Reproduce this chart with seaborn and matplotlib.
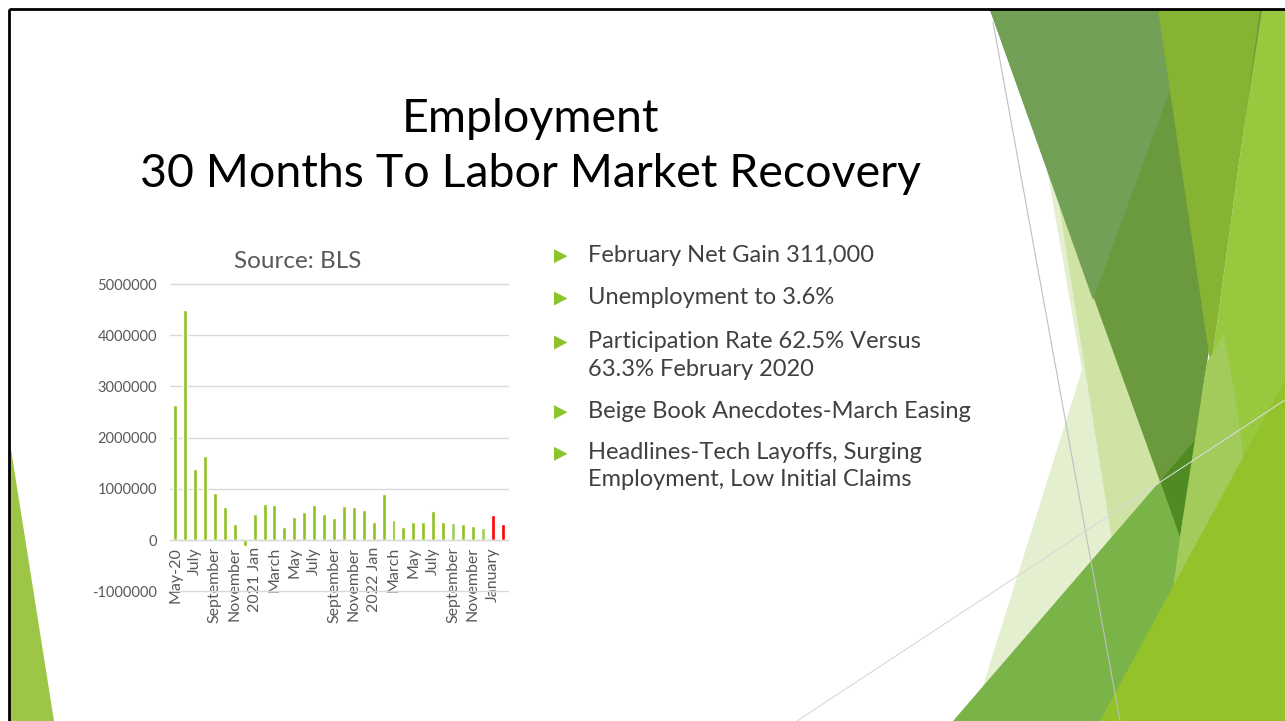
import matplotlib
matplotlib.use("Agg")
import matplotlib.pyplot as plt
from matplotlib.patches import Polygon
import seaborn as sns
import pandas as pd

# ---------------- data ----------------
months = ["2020-05", "2020-06", "2020-07", "2020-08", "2020-09", "2020-10",
          "2020-11", "2020-12", "2021-01", "2021-02", "2021-03", "2021-04",
          "2021-05", "2021-06", "2021-07", "2021-08", "2021-09", "2021-10",
          "2021-11", "2021-12", "2022-01", "2022-02", "2022-03", "2022-04",
          "2022-05", "2022-06", "2022-07", "2022-08", "2022-09", "2022-10",
          "2022-11", "2022-12", "2023-01", "2023-02"]
job_gains = [2640000, 4500000, 1380000, 1650000, 910000, 640000,
             320000, -120000, 510000, 700000, 690000, 260000,
             440000, 550000, 680000, 510000, 420000, 670000,
             640000, 580000, 350000, 900000, 400000, 250000,
             360000, 360000, 570000, 350000, 330000, 310000,
             280000, 240000, 490000, 311000]
tick_labels = ["May-20", "July", "September", "November", "2021 Jan", "March",
               "May", "July", "September", "November", "2022 Jan", "March",
               "May", "July", "September", "November", "January"]
y_ticks = [-1000000, 0, 1000000, 2000000, 3000000, 4000000, 5000000]
chart_title = "Source: BLS"
slide_title = ["Employment", "30 Months To Labor Market Recovery"]
bullets = [["February Net Gain 311,000"],
           ["Unemployment to 3.6%"],
           ["Participation Rate 62.5% Versus", "63.3% February 2020"],
           ["Beige Book Anecdotes-March Easing"],
           ["Headlines-Tech Layoffs, Surging", "Employment, Low Initial Claims"]]

# ---------------- style ----------------
sns.set_theme(style="white")
plt.rcParams["font.family"] = ["Lato", "DejaVu Sans"]

W, H = 1285, 721
fig = plt.figure(figsize=(W / 100, H / 100), dpi=100)
fig.patch.set_facecolor("white")

bg = fig.add_axes([0, 0, 1, 1])
bg.set_xlim(0, W)
bg.set_ylim(H, 0)
bg.axis("off")


def poly(pts, color, z=1, alpha=1.0):
    bg.add_patch(Polygon(pts, closed=True, facecolor=color, edgecolor="none",
                         zorder=z, alpha=alpha))


# decorative theme shapes (right side)
poly([(1047, 169), (1082, 370), (972, 721), (1160, 721), (1160, 400)], "#E3EFCF")
poly([(1058, 198), (1112, 540), (1170, 480), (1150, 300)], "#CFE4A4")
poly([(1211, 368), (1260, 10), (1285, 10), (1285, 721), (1100, 721)], "#98C83E")
poly([(990, 10), (1262, 10), (1180, 537)], "#6A993E")
poly([(990, 10), (1158, 10), (1170, 90), (1093, 300)], "#73A057")
poly([(1158, 10), (1260, 10), (1211, 368)], "#86B432")
poly([(953, 721), (1198, 437), (1173, 590), (1100, 721)], "#7AB449")
poly([(1160, 481), (1195, 440), (1180, 537)], "#4F8B22")
poly([(1207, 362), (1224, 335), (1236, 400), (1245, 470), (1173, 590),
      (1180, 537)], "#A2CB5B")
poly([(1100, 721), (1285, 380), (1285, 721)], "#93C22B")
bg.plot([993, 1120], [22, 721], color="#BFBFBF", lw=0.8, zorder=2)
bg.plot([797, 1285], [721, 400], color="#D9D9D9", lw=0.8, zorder=2)
# left decorative sliver
poly([(10, 443), (10, 721), (54, 721)], "#9DC646")
# slide border
bg.plot([9, W], [9, 9], color="black", lw=2, zorder=3, solid_capstyle="butt")
bg.plot([9, 9], [9, H], color="black", lw=2, zorder=3, solid_capstyle="butt")

# slide title
bg.text(530, 131.7, slide_title[0], ha="center", va="baseline",
        fontsize=33.5, color="black", zorder=4)
bg.text(530, 186.7, slide_title[1], ha="center", va="baseline",
        fontsize=33.5, color="black", zorder=4)

# bullets
bullet_baselines = [[261.7], [304.0], [348.0, 375.5], [417.7], [459.3, 486.5]]
for lines, bases in zip(bullets, bullet_baselines):
    b0 = bases[0]
    poly([(554, b0 - 12.5), (554, b0 + 1.5), (567.5, b0 - 5.5)], "#8DC42E", z=4)
    for txt, b in zip(lines, bases):
        bg.text(588, b, txt, ha="left", va="baseline", fontsize=17,
                color="#404040", zorder=4)

# chart title
bg.text(298, 268, chart_title, ha="center", va="baseline", fontsize=17.5,
        color="#595959", zorder=4)

# ---------------- bar chart ----------------
df = pd.DataFrame({"month": months, "jobs": job_gains})
green, light, red = "#8DC21F", "#9AD058", "#FF0000"
bar_colors = [green] * len(months)
bar_colors[28] = light
bar_colors[31] = light
bar_colors[32] = red
bar_colors[33] = red

left_px, right_px, top_px, bottom_px = 170.3, 507.6, 284.0, 591.2
ax = fig.add_axes([left_px / W, (H - bottom_px) / H,
                   (right_px - left_px) / W, (bottom_px - top_px) / H])
ax.patch.set_alpha(0)
sns.barplot(data=df, x="month", y="jobs", hue="month", palette=bar_colors,
            legend=False, width=0.4, saturation=1, ax=ax)
for s in ["left", "right", "top"]:
    ax.spines[s].set_visible(False)
ax.spines["bottom"].set_position(("data", 0))
ax.spines["bottom"].set_color("#D9D9D9")
ax.spines["bottom"].set_linewidth(1)
ax.set_xlim(-0.5, len(months) - 0.5)
ax.set_ylim(y_ticks[0], y_ticks[-1])
ax.set_yticks(y_ticks)
ax.set_yticklabels([str(v) for v in y_ticks])
ax.set_xticks(range(0, len(months), 2))
ax.set_xticklabels(tick_labels, rotation=90)
ax.set_xlabel("")
ax.set_ylabel("")
ax.yaxis.grid(True, color="#D9D9D9", linewidth=1)
ax.xaxis.grid(False)
ax.set_axisbelow(True)
ax.tick_params(length=0, colors="#595959", labelsize=10.5)
ax.tick_params(axis="x", labelsize=11.5, pad=5)
ax.tick_params(axis="y", pad=9.4)
for gl in ax.get_ygridlines():
    gl.set_clip_on(False)

fig.savefig("out.png", dpi=100, facecolor="white")
